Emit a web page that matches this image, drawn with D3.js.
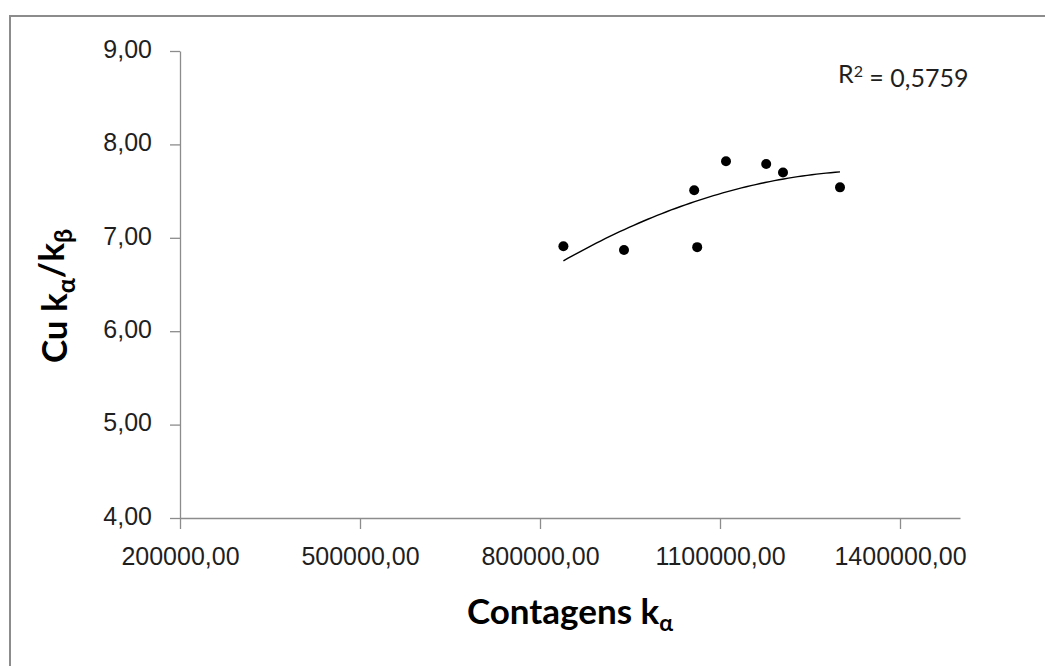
<!DOCTYPE html>
<html>
<head>
<meta charset="utf-8">
<script src="https://cdn.jsdelivr.net/npm/d3@7"></script>
<style>
  html, body { margin: 0; padding: 0; background: #fff; }
  svg { display: block; font-family: Lato, "Open Sans", sans-serif; }
</style>
</head>
<body>
<div id="chart"></div>
<script>
// counts (k alpha) and Cu ka/kb ratio
const counts = [839000, 940000, 1057000, 1062000, 1110000, 1177000, 1205000, 1300000]
const ratios = [6.91, 6.87, 7.51, 6.90, 7.82, 7.79, 7.70, 7.54]

const xTicks = [200000, 500000, 800000, 1100000, 1400000]
const yTicks = [4, 5, 6, 7, 8, 9]
const r2Label = "0,5759"

const width = 1045
const height = 666

const ptBR = d3.formatLocale({ decimal: ",", thousands: ".", grouping: [3], currency: ["R$", ""] })
const fmt = ptBR.format(".2f")

const x = d3.scaleLinear().domain([200000, 1500000]).range([180, 960])
const y = d3.scaleLinear().domain([4, 9]).range([518, 51])

const svg = d3.select("#chart").append("svg")
  .attr("width", width)
  .attr("height", height)

// chart area border (only top/left visible in the picture)
svg.append("rect")
  .attr("x", 10).attr("y", 16)
  .attr("width", 1100).attr("height", 700)
  .attr("fill", "none")
  .attr("stroke", "#8c8c8c")
  .attr("stroke-width", 2)

// x axis
const gx = svg.append("g")
  .attr("transform", `translate(0,${y(4)})`)
  .call(d3.axisBottom(x).tickValues(xTicks).tickFormat(fmt).tickSize(11).tickSizeOuter(0).tickPadding(12))
gx.select(".domain").attr("stroke", "#8c8c8c").attr("stroke-width", 1.3)
gx.selectAll(".tick line").attr("stroke", "#8c8c8c").attr("stroke-width", 1.3)
gx.selectAll(".tick text").attr("fill", "#1f1f1f").style("font-size", "25px").attr("dy", "0.95em")

// y axis
const gy = svg.append("g")
  .attr("transform", `translate(${x(200000)},0)`)
  .call(d3.axisLeft(y).tickValues(yTicks).tickFormat(fmt).tickSize(10).tickSizeOuter(0).tickPadding(18))
gy.select(".domain").attr("stroke", "#8c8c8c").attr("stroke-width", 1.3)
gy.selectAll(".tick line").attr("stroke", "#8c8c8c").attr("stroke-width", 1.3)
gy.selectAll(".tick text").attr("fill", "#1f1f1f").style("font-size", "25px").attr("dy", "0.25em")

// polynomial (order 2) trendline, least squares on the data
const pts = counts.map((c, i) => ({ c, r: ratios[i] }))
const u = d => d / 1e6
let S = [0, 0, 0, 0, 0], T = [0, 0, 0]
pts.forEach(p => {
  const t = u(p.c)
  for (let k = 0; k < 5; k++) S[k] += Math.pow(t, k)
  for (let k = 0; k < 3; k++) T[k] += p.r * Math.pow(t, k)
})
// solve 3x3 normal equations
const A = [[S[0], S[1], S[2], T[0]], [S[1], S[2], S[3], T[1]], [S[2], S[3], S[4], T[2]]]
for (let i = 0; i < 3; i++) {
  for (let j = i + 1; j < 3; j++) {
    const f = A[j][i] / A[i][i]
    for (let k = i; k < 4; k++) A[j][k] -= f * A[i][k]
  }
}
const coef = [0, 0, 0]
for (let i = 2; i >= 0; i--) {
  let s = A[i][3]
  for (let k = i + 1; k < 3; k++) s -= A[i][k] * coef[k]
  coef[i] = s / A[i][i]
}
const fit = c => coef[0] + coef[1] * u(c) + coef[2] * u(c) * u(c)
const trend = d3.range(60).map(i => {
  const c = d3.min(counts) + (d3.max(counts) - d3.min(counts)) * i / 59
  return { c, r: fit(c) }
})
svg.append("path")
  .datum(trend)
  .attr("fill", "none")
  .attr("stroke", "#000")
  .attr("stroke-width", 1.4)
  .attr("d", d3.line().x(d => x(d.c)).y(d => y(d.r)))

// points
svg.append("g").selectAll("circle")
  .data(pts)
  .join("circle")
  .attr("cx", d => x(d.c))
  .attr("cy", d => y(d.r))
  .attr("r", 5)
  .attr("fill", "#000")

// R² label
const rt = svg.append("text")
  .attr("x", 838).attr("y", 83)
  .attr("fill", "#1f1f1f")
  .style("font-size", "25px")
rt.append("tspan").text("R")
rt.append("tspan").attr("dy", "-0.4em").style("font-size", "16px").text("2")
rt.append("tspan").attr("dy", "0.4em").text(" = " + r2Label)

// x title
const xt = svg.append("text")
  .attr("x", 570).attr("y", 624)
  .attr("text-anchor", "middle")
  .attr("fill", "#000")
  .style("font-size", "35px")
  .style("font-weight", "bold")
xt.append("tspan").text("Contagens k")
xt.append("tspan").attr("dy", "0.3em").style("font-size", "23px").text("α")

// y title
const yt = svg.append("text")
  .attr("transform", "translate(67,296) rotate(-90)")
  .attr("text-anchor", "middle")
  .attr("fill", "#000")
  .style("font-size", "35px")
  .style("font-weight", "bold")
yt.append("tspan").text("Cu k")
yt.append("tspan").attr("dy", "0.3em").style("font-size", "25px").text("α")
yt.append("tspan").attr("dy", "-0.3em").text("/k")
yt.append("tspan").attr("dy", "0.3em").style("font-size", "25px").text("β")
</script>
</body>
</html>
